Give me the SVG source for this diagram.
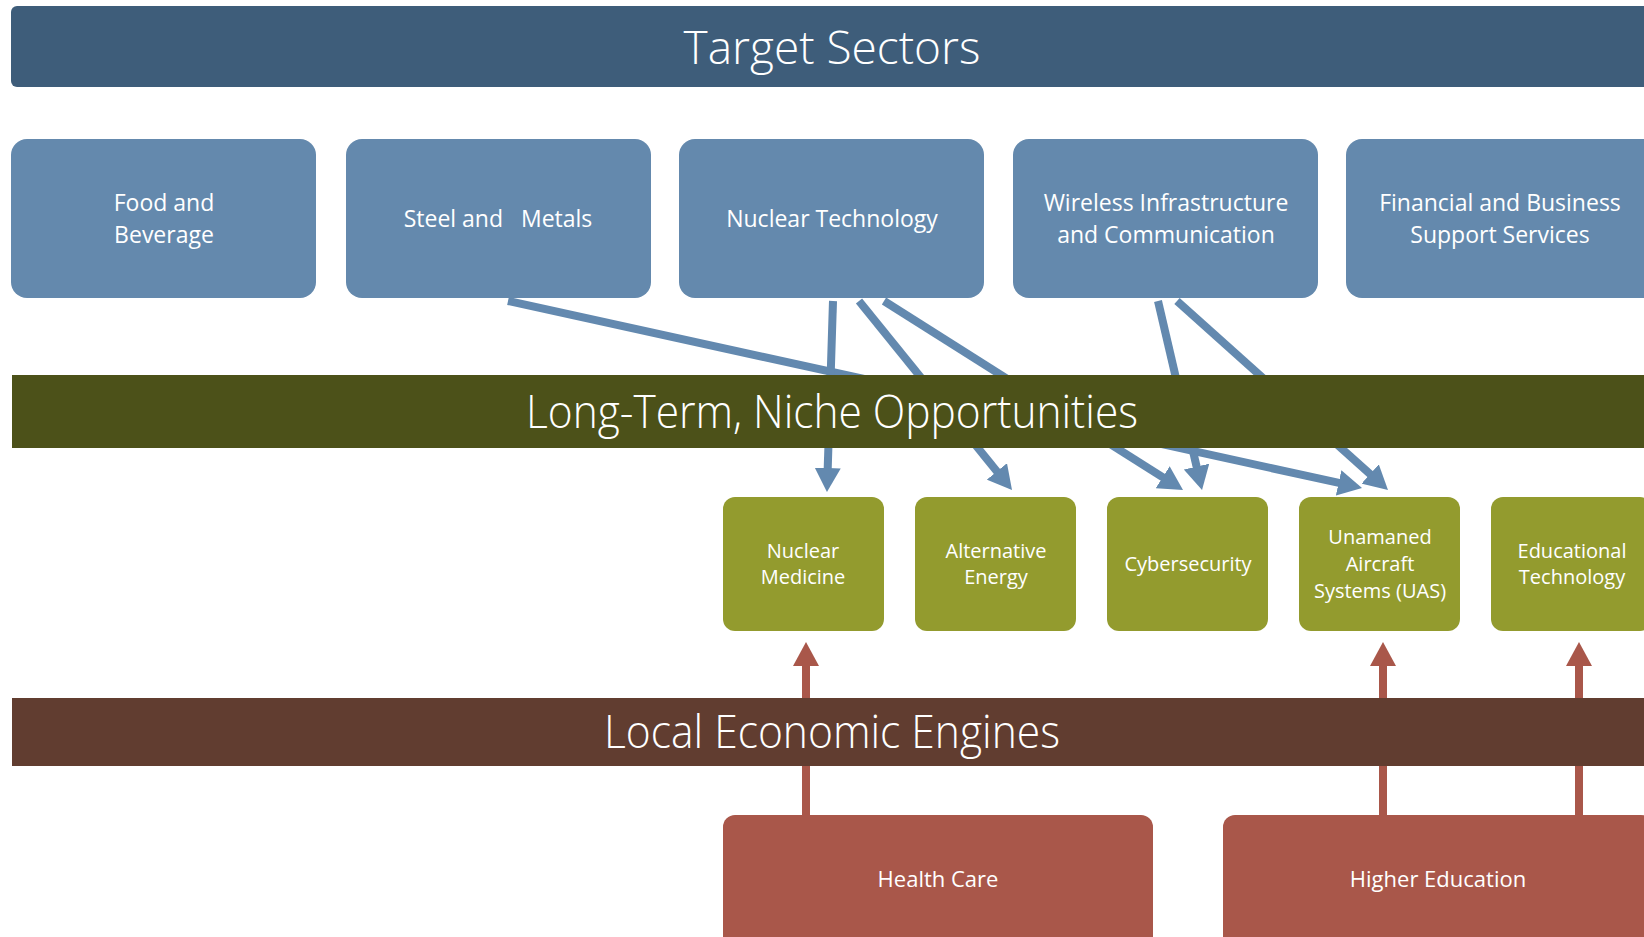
<svg xmlns="http://www.w3.org/2000/svg" width="1644" height="937" viewBox="0 0 1644 937">
<defs>
<style>
.title{font-family:"Open Sans","Noto Sans",sans-serif;font-weight:300;font-size:46px;fill:#ffffff;text-anchor:middle}
.lbl{font-family:"Open Sans","Noto Sans",sans-serif;font-weight:400;fill:#ffffff;text-anchor:middle}
.blue{fill:#6489AD}
.green{fill:#939B2E}
.red{fill:#A9574A}
.bl{stroke:#6389AF;stroke-width:8;fill:none;marker-end:url(#ab)}
.rl{stroke:#A9574A;stroke-width:8;fill:none;marker-end:url(#ar)}
</style>
<marker id="ab" markerUnits="userSpaceOnUse" markerWidth="24" markerHeight="26" refX="4" refY="13" orient="auto" viewBox="0 0 24 26">
<path d="M0,0 L24,13 L0,26 z" fill="#6389AF"/>
</marker>
<marker id="ar" markerUnits="userSpaceOnUse" markerWidth="24" markerHeight="26" refX="4" refY="13" orient="auto" viewBox="0 0 24 26">
<path d="M0,0 L24,13 L0,26 z" fill="#A9574A"/>
</marker>
</defs>
<rect width="1644" height="937" fill="#ffffff"/>

<g id="connectors">
<line class="bl" x1="508" y1="301" x2="1342.5" y2="483.7"/>
<line class="bl" x1="833" y1="301" x2="827.6" y2="472"/>
<line class="bl" x1="859" y1="301" x2="999.4" y2="474.5"/>
<line class="bl" x1="884" y1="301" x2="1166.1" y2="479.3"/>
<line class="bl" x1="1158" y1="301" x2="1197.5" y2="470.5"/>
<line class="bl" x1="1177" y1="301" x2="1373.1" y2="476.7"/>
<line class="rl" x1="806" y1="816" x2="806" y2="662"/>
<line class="rl" x1="1383" y1="816" x2="1383" y2="662"/>
<line class="rl" x1="1579" y1="816" x2="1579" y2="662"/>
</g>

<g id="target-sectors">
<rect x="11" y="6" width="1660" height="81" rx="6" fill="#3E5D7A"/>
<text class="title" x="832" y="64">Target Sectors</text>
</g>

<g id="food">
<rect class="blue" x="11" y="139" width="305" height="159" rx="16"/>
<text class="lbl" font-size="23" x="164" y="211">Food and</text>
<text class="lbl" font-size="23" x="164" y="243">Beverage</text>
</g>
<g id="steel">
<rect class="blue" x="346" y="139" width="305" height="159" rx="16"/>
<text class="lbl" font-size="23" x="498" y="227" style="white-space:pre">Steel and   Metals</text>
</g>
<g id="nuclear-tech">
<rect class="blue" x="679" y="139" width="305" height="159" rx="16"/>
<text class="lbl" font-size="23" x="832" y="227">Nuclear Technology</text>
</g>
<g id="wireless">
<rect class="blue" x="1013" y="139" width="305" height="159" rx="16"/>
<text class="lbl" font-size="23" x="1166" y="211">Wireless Infrastructure</text>
<text class="lbl" font-size="23" x="1166" y="243">and Communication</text>
</g>
<g id="financial">
<rect class="blue" x="1346" y="139" width="320" height="159" rx="16"/>
<text class="lbl" font-size="23" x="1500" y="211">Financial and Business</text>
<text class="lbl" font-size="23" x="1500" y="243">Support Services</text>
</g>

<g id="long-term">
<rect x="12" y="375" width="1660" height="73" fill="#4C5119"/>
<text class="title" x="832" y="428" textLength="612" lengthAdjust="spacingAndGlyphs">Long-Term, Niche Opportunities</text>
</g>

<g id="nuclear-medicine">
<rect class="green" x="723" y="497" width="161" height="134" rx="12"/>
<text class="lbl" font-size="20" x="803" y="558">Nuclear</text>
<text class="lbl" font-size="20" x="803" y="584">Medicine</text>
</g>
<g id="alternative-energy">
<rect class="green" x="915" y="497" width="161" height="134" rx="12"/>
<text class="lbl" font-size="20" x="996" y="558">Alternative</text>
<text class="lbl" font-size="20" x="996" y="584">Energy</text>
</g>
<g id="cybersecurity">
<rect class="green" x="1107" y="497" width="161" height="134" rx="12"/>
<text class="lbl" font-size="20" x="1188" y="571">Cybersecurity</text>
</g>
<g id="uas">
<rect class="green" x="1299" y="497" width="161" height="134" rx="12"/>
<text class="lbl" font-size="20" x="1380" y="544">Unamaned</text>
<text class="lbl" font-size="20" x="1380" y="571">Aircraft</text>
<text class="lbl" font-size="20" x="1380" y="598">Systems (UAS)</text>
</g>
<g id="edtech">
<rect class="green" x="1491" y="497" width="161" height="134" rx="12"/>
<text class="lbl" font-size="20" x="1572" y="558">Educational</text>
<text class="lbl" font-size="20" x="1572" y="584">Technology</text>
</g>

<g id="local-engines">
<rect x="12" y="698" width="1660" height="68" fill="#613D30"/>
<text class="title" x="832" y="748" textLength="456" lengthAdjust="spacingAndGlyphs">Local Economic Engines</text>
</g>

<g id="health-care">
<rect class="red" x="723" y="815" width="430" height="160" rx="12"/>
<text class="lbl" font-size="22" x="938" y="887">Health Care</text>
</g>
<g id="higher-education">
<rect class="red" x="1223" y="815" width="430" height="160" rx="12"/>
<text class="lbl" font-size="22" x="1438" y="887">Higher Education</text>
</g>
</svg>
